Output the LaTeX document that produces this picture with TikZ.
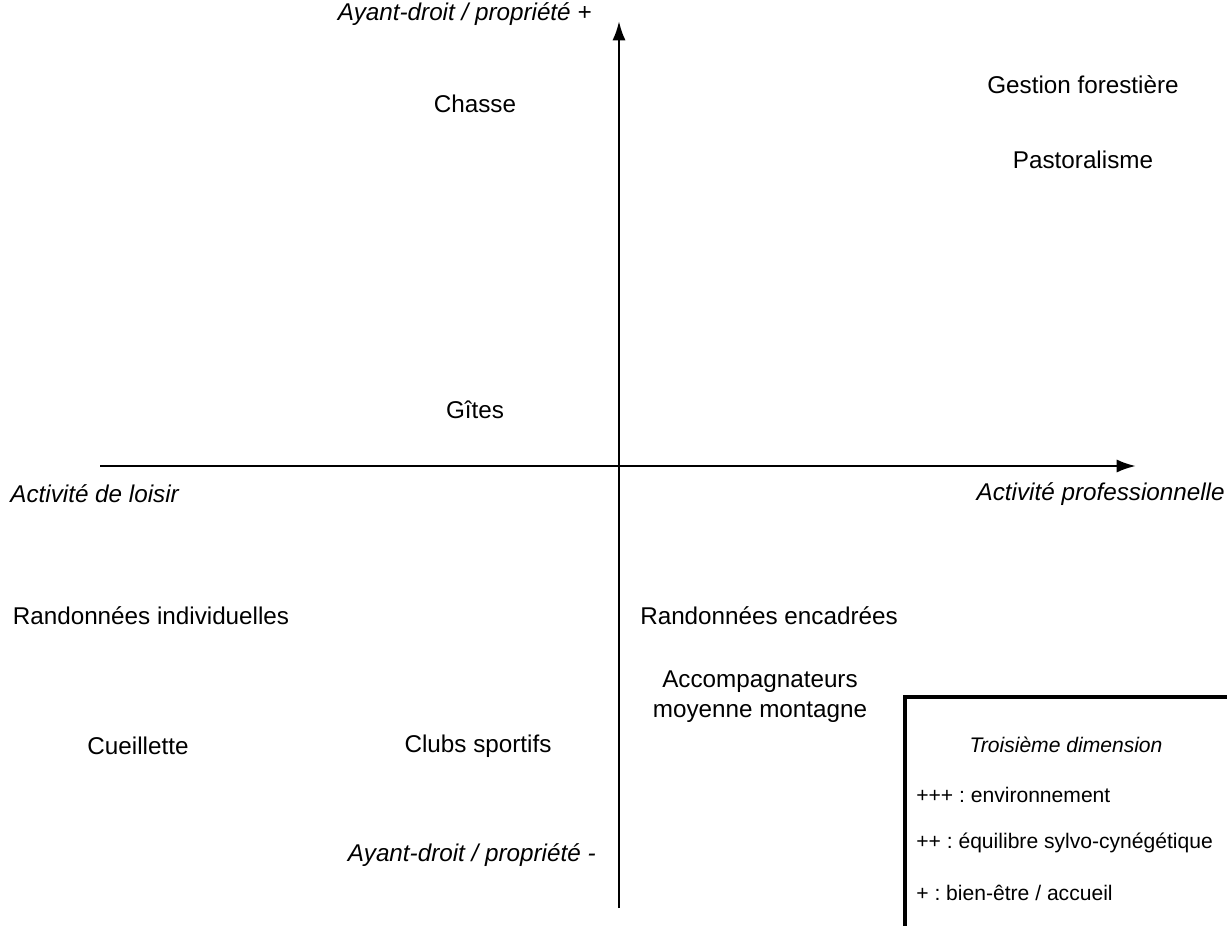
\documentclass[tikz,border=0pt]{standalone}
\usepackage{fontspec}
\setmainfont{Liberation Sans}
\usepackage{tikz}
\usetikzlibrary{arrows.meta}
\frenchspacing

\tikzset{
    item/.style={font=\fontsize{13.8}{17}\selectfont, inner sep=0pt, align=center},
    axislabel/.style={item, font=\fontsize{13.8}{17}\selectfont\itshape},
    legendtext/.style={font=\fontsize{12}{14}\selectfont, inner sep=0pt},
    axis/.style={line width=1.5pt, -{Latex[length=11pt,width=7.5pt]}}
}

\begin{document}
\begin{tikzpicture}[x=0.02cm,y=-0.02cm]
    \useasboundingbox (0,0) rectangle (1227,926);
    % axes
    \coordinate (west) at (100,466);
    \coordinate (east) at (1136,466);
    \coordinate (south) at (619,908);
    \coordinate (north) at (619,21);
    \draw [axis] (west) -- (east);
    \draw [axis] (south) -- (north);
    \node [axislabel, anchor=east] (propplus) at (592,14){Ayant-droit / propriété +};
    \node [axislabel, anchor=east] (propminus) at (596,855){Ayant-droit / propriété -};
    \node [axislabel, anchor=west] (loisir) at (10,494){Activité de loisir};
    \node [axislabel, anchor=east] (pro) at (1225,494){Activité professionnelle};
    % activities
    \node [item] (chasse) at (475,104){Chasse};
    \node [item] (gestion) at (1083,85){Gestion forestière};
    \node [item] (pasto) at (1083,160){Pastoralisme};
    \node [item] (gites) at (475,410){Gîtes};
    \node [item] (randoind) at (151,616){Randonnées individuelles};
    \node [item] (randoenc) at (769,616){Randonnées encadrées};
    \node [item] (accomp) at (760,697){Accompagnateurs\\moyenne montagne};
    \node [item] (cueil) at (138,746){Cueillette};
    \node [item] (clubs) at (478,746){Clubs sportifs};
    % legend
    \draw [line width=2.8pt] (905,926) -- (905,697) -- (1227,697);
    \node [legendtext, font=\fontsize{12}{14}\selectfont\itshape] (titre) at (1066,745){Troisième dimension};
    \node [legendtext, anchor=west] (env) at (916,795){+++ : environnement};
    \node [legendtext, anchor=west] (equi) at (916,843){++ : équilibre sylvo-cynégétique};
    \node [legendtext, anchor=west] (bien) at (916,893){+ : bien-être / accueil};
\end{tikzpicture}
\end{document}
